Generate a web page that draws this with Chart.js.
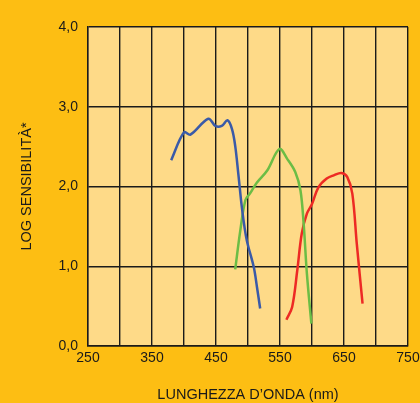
<!DOCTYPE html>
<html>
<head>
<meta charset="utf-8">
<script src="https://cdn.jsdelivr.net/npm/chart.js@4"></script>
<style>
  html, body { margin: 0; padding: 0; background: #fdbe13; }
  canvas { display: block; }
</style>
</head>
<body>
<canvas id="chart" width="420" height="403"></canvas>
<script>
// wavelength (nm) and log sensitivity for each cone curve
const blueNm  = [380, 400, 410, 438, 449, 459, 468, 475, 480, 485, 491, 498, 509, 514, 519];
const blueLog = [2.33, 2.68, 2.65, 2.85, 2.76, 2.76, 2.83, 2.72, 2.51, 2.15, 1.70, 1.33, 0.99, 0.74, 0.47];

const greenNm  = [480, 488, 496, 503, 514, 530, 549, 561, 574, 582, 587, 592, 599];
const greenLog = [0.96, 1.45, 1.83, 1.91, 2.05, 2.20, 2.47, 2.35, 2.18, 1.95, 1.53, 0.91, 0.28];

const redNm  = [560, 569, 577, 584, 592, 600, 610, 623, 634, 646, 655, 663, 670, 679];
const redLog = [0.33, 0.49, 0.95, 1.41, 1.66, 1.78, 1.99, 2.10, 2.14, 2.17, 2.12, 1.91, 1.28, 0.53];

const xLabels = [250, 350, 450, 550, 650, 750];

function points(xs, ys) {
    return xs.map(function (x, i) { return { x: x, y: ys[i] }; });
}

// pale yellow fill behind the grid
const plotBg = {
    id: 'plotBg',
    beforeDraw: function (chart) {
        const a = chart.chartArea;
        const ctx = chart.ctx;
        ctx.save();
        ctx.fillStyle = '#feda88';
        ctx.fillRect(a.left, a.top, a.right - a.left, a.bottom - a.top);
        ctx.restore();
    }
};

const font = { family: '"Liberation Sans", Arial, sans-serif', size: 14 };

function line(xs, ys, color) {
    return {
        data: points(xs, ys),
        borderColor: color,
        borderWidth: 2.5,
        pointRadius: 0,
        tension: 0.35,
        fill: false
    };
}

new Chart(document.getElementById('chart'), {
    type: 'line',
    data: {
        datasets: [
            line(blueNm, blueLog, '#3a5aa8'),
            line(greenNm, greenLog, '#6cbd45'),
            line(redNm, redLog, '#ed2a24')
        ]
    },
    options: {
        responsive: false,
        animation: false,
        layout: { padding: { top: 27, right: 12, left: 0, bottom: 0 } },
        plugins: { legend: { display: false }, tooltip: { enabled: false } },
        scales: {
            x: {
                type: 'linear',
                min: 250,
                max: 750,
                grid: { color: '#1a1a1a', lineWidth: 1.4, drawTicks: false },
                border: { color: '#1a1a1a', width: 1.4 },
                ticks: {
                    stepSize: 50,
                    autoSkip: false,
                    maxRotation: 0,
                    padding: 4,
                    color: '#1a1a1a',
                    font: font,
                    callback: function (v) { return xLabels.includes(v) ? String(v) : ''; }
                },
                title: {
                    display: true,
                    text: 'LUNGHEZZA D’ONDA (nm)',
                    color: '#1a1a1a',
                    font: { family: font.family, size: 14.5, lineHeight: 1 },
                    padding: { top: 0, bottom: 1 }
                },
                afterFit: function (scale) {
                    scale.height = 57;
                    scale.paddingRight = 0;
                }
            },
            y: {
                min: 0,
                max: 4,
                grid: { color: '#1a1a1a', lineWidth: 1.4, drawTicks: false },
                border: { color: '#1a1a1a', width: 1.4 },
                ticks: {
                    stepSize: 1,
                    padding: 10,
                    color: '#1a1a1a',
                    font: font,
                    callback: function (v) { return v.toFixed(1).replace('.', ','); }
                },
                title: {
                    display: true,
                    text: 'LOG SENSIBILITÀ*',
                    color: '#1a1a1a',
                    font: { family: font.family, size: 14.5, lineHeight: 1 },
                    padding: { top: 20, bottom: 0 }
                },
                afterFit: function (scale) { scale.width = 88; }
            }
        }
    },
    plugins: [plotBg]
});
</script>
</body>
</html>
